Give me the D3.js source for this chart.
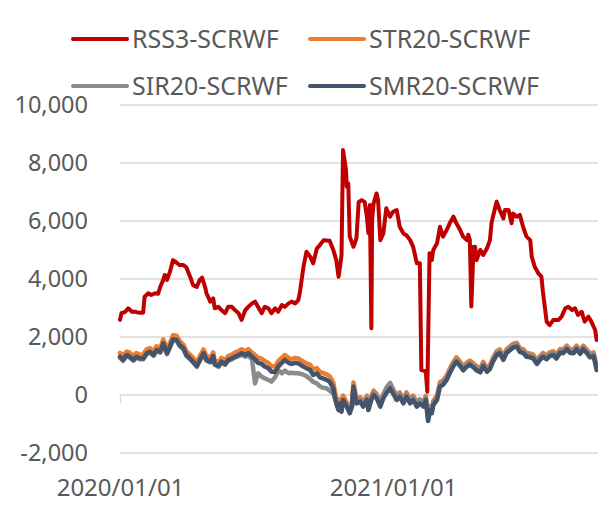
<!DOCTYPE html>
<meta charset="utf-8">
<script src="https://d3js.org/d3.v7.min.js"></script>
<style>
  body { margin: 0; background: #fff; }
  text { font-family: "Noto Sans", "Open Sans", sans-serif; fill: #595959; }
</style>
<body>
<div id="chart"></div>
<script>
// days counted from 2020/01/01
var rssDays = [0,2,7,11,16,20,25,31,33,38,42,47,51,54,58,60,63,67,71,76,
  80,85,89,94,98,103,107,110,114,116,121,125,127,132,136,141,145,150,154,159,
  163,168,172,177,181,185,190,194,199,203,208,212,217,221,226,230,235,239,241,246,
  250,255,259,264,268,273,281,286,290,293,295,297,299,303,304,306,308,313,317,320,
  324,328,331,333,335,337,338,340,344,346,349,353,357,362,366,371,375,380,384,389,
  393,398,402,404,408,410,412,415,418,420,425,429,433,438,442,447,451,456,460,465,
  467,469,471,474,476,478,483,487,492,496,498,500,505,509,514,516,521,525,527,532,
  536,541,545,550,552,556,561,565,567,572,576,581,588,592,597,601,606,610,614,619,
  623,628,632,637,639];
var rssVals = [2590,2820,2870,2990,2870,2870,2840,2840,3390,3510,3450,3510,3490,3730,3970,4140,3970,4250,4650,4560,
  4480,4480,4400,4080,3790,3730,3970,4050,3730,3510,3220,3330,2990,3040,2930,2820,3040,3040,2930,2820,
  2590,2930,3040,3160,3220,3040,2820,3040,2990,2820,2990,2870,3100,3040,3160,3220,3160,3270,3510,4420,
  4940,4770,4540,5060,5170,5340,5320,5000,4650,4080,4420,4830,8450,7760,7180,7300,5460,5110,5400,6660,
  6720,6660,6150,5580,6550,2300,6030,6610,6950,6720,5340,5570,6440,6150,6320,6380,5800,5570,5510,5340,
  5110,4540,4540,860,830,800,115,4890,4650,5000,5230,5800,5460,5690,5920,6150,5920,5690,5460,5340,
  5520,5340,3050,5110,5110,4650,5000,4830,5060,5340,5920,6150,6670,6380,6090,6380,6380,5920,6260,6150,
  6210,5750,5460,5340,4770,4420,4190,4080,3560,2530,2410,2590,2590,2700,2990,3040,2930,2990,2760,2870,
  2530,2700,2530,2240,1900];

var lowDays = [0,4,9,13,18,22,27,31,36,40,
  45,49,54,58,63,67,71,76,80,85,
  89,94,98,103,107,112,116,121,125,127,
  132,136,141,145,150,154,159,163,168,172,
  177,181,185,190,194,199,203,208,212,217,
  221,226,230,235,239,246,250,255,259,264,
  268,272,277,281,286,288,290,293,295,297,
  299,304,308,311,313,315,317,322,326,331,
  333,337,340,344,349,353,357,362,366,371,
  375,380,384,389,393,398,402,407,410,413,
  416,418,420,425,429,433,438,442,447,451,
  456,460,465,469,474,478,483,487,492,496,
  500,505,509,514,518,523,527,532,536,541,
  545,550,554,559,563,567,572,576,581,585,
  590,594,599,603,608,612,617,621,626,630,
  635,639];
var strVals = [1450,1360,1500,1460,1350,1450,1390,1400,1580,1620,
  1520,1680,1630,1920,1580,1800,2060,2040,1860,1740,
  1510,1390,1280,1130,1340,1570,1350,1280,1470,1200,
  1130,1280,1200,1340,1390,1460,1510,1580,1510,1580,
  1460,1380,1290,1250,1170,1100,990,990,1160,1290,
  1380,1280,1240,1280,1260,1150,1090,1040,880,930,
  800,760,710,650,430,130,-120,-360,-140,-430,
  -20,-250,-480,-250,430,150,-130,-80,-250,-20,
  -370,-20,150,40,-250,40,210,380,200,-20,
  90,-140,90,-140,-20,-250,-140,-260,-30,-760,
  -380,-480,-200,-20,450,500,680,900,1150,1300,
  1150,1000,1120,1190,1090,990,920,1140,940,1040,
  1280,1510,1570,1340,1570,1680,1770,1800,1620,1570,
  1450,1430,1390,1200,1340,1450,1360,1470,1510,1390,
  1590,1570,1700,1590,1570,1700,1550,1700,1570,1430,
  1470,990];
var sirVals = [1290,1180,1350,1290,1180,1290,1230,1230,1410,1460,
  1350,1520,1460,1750,1410,1640,1890,1870,1690,1580,
  1350,1230,1120,970,1180,1410,1180,1120,1310,1040,
  970,1120,1040,1180,1230,1290,1340,1380,1320,1360,
  1230,400,750,630,570,520,460,610,860,750,
  840,750,770,750,750,700,650,550,450,400,
  300,250,230,150,50,-100,-250,-450,-300,-500,
  -200,-350,-550,-380,250,50,-200,-150,-300,-100,
  -400,-80,80,0,-300,0,250,420,200,-50,
  40,-200,40,-180,-70,-300,-180,-300,-80,-800,
  -430,-540,-250,-80,380,430,600,820,1070,1220,
  1070,920,1050,1120,1020,920,850,1070,870,970,
  1220,1450,1510,1280,1510,1620,1710,1740,1560,1510,
  1390,1370,1330,1140,1280,1390,1300,1410,1450,1330,
  1530,1510,1650,1530,1510,1650,1490,1650,1510,1370,
  1410,930];
var smrVals = [1320,1210,1380,1320,1210,1320,1260,1260,1440,1490,
  1380,1550,1490,1780,1440,1670,1920,1900,1720,1610,
  1380,1260,1150,1000,1210,1440,1210,1150,1340,1070,
  1000,1150,1070,1210,1260,1320,1380,1440,1380,1440,
  1320,1230,1110,1070,980,920,800,800,980,1110,
  1210,1110,1070,1110,1090,980,920,860,690,750,
  610,570,520,460,230,-60,-290,-520,-290,-580,
  -170,-400,-630,-400,290,0,-290,-230,-400,-170,
  -520,-170,0,-110,-400,-110,60,230,60,-170,
  -60,-290,-60,-290,-170,-400,-290,-400,-170,-900,
  -520,-630,-350,-170,290,350,520,750,1000,1150,
  1000,850,980,1050,950,850,780,1000,800,900,
  1150,1380,1440,1210,1440,1550,1640,1670,1490,1440,
  1320,1300,1260,1070,1210,1320,1230,1340,1380,1260,
  1460,1440,1580,1460,1440,1580,1420,1580,1440,1300,
  1340,860];

var seriesNames = ["RSS3-SCRWF", "STR20-SCRWF", "SIR20-SCRWF", "SMR20-SCRWF"];
var seriesColors = ["#c00000", "#ed7d31", "#8c8c8c", "#44546a"];
var yTicks = [-2000, 0, 2000, 4000, 6000, 8000, 10000];

var width = 598, height = 505;
var start = new Date(2020, 0, 1);
function dayToDate(d) { return d3.timeDay.offset(start, d); }

var svg = d3.select("#chart").append("svg")
    .attr("width", width)
    .attr("height", height);

var x = d3.scaleTime()
    .domain([start, dayToDate(639)])
    .range([120, 120 + 639 * 273 / 366]);

var y = d3.scaleLinear()
    .domain([-2000, 10000])
    .range([453, 105]);

// gridlines
svg.append("g")
  .selectAll("line")
  .data(yTicks)
  .enter().append("line")
    .attr("x1", 120)
    .attr("x2", 598)
    .attr("y1", function(d) { return y(d); })
    .attr("y2", function(d) { return y(d); })
    .style("stroke", "#d9d9d9")
    .style("stroke-width", 1.5);

// y labels (plain hyphen for the minus sign, as in the original)
svg.append("g")
  .selectAll("text")
  .data(yTicks)
  .enter().append("text")
    .attr("x", 88)
    .attr("y", function(d) { return y(d); })
    .attr("dy", "0.35em")
    .attr("text-anchor", "end")
    .style("font-size", "23.5px")
    .text(function(d) { return d3.format(",")(d).replace("\u2212", "-"); });

// x axis on the zero line
var xAxis = svg.append("g")
    .attr("transform", "translate(0," + y(0) + ")")
    .call(d3.axisBottom(x)
      .tickValues([start, new Date(2021, 0, 1)])
      .tickSize(8)
      .tickFormat(d3.timeFormat("%Y/%m/%d")));
xAxis.select(".domain").remove();
xAxis.selectAll("line").style("stroke", "#d9d9d9").style("stroke-width", 1.5);
xAxis.selectAll("text")
    .attr("y", 101)
    .attr("dy", "0")
    .style("font-size", "24px")
    .style("font-family", "'Noto Sans', sans-serif")
    .attr("fill", "#595959");

// lines
var line = d3.line()
    .x(function(d) { return x(dayToDate(d[0])); })
    .y(function(d) { return y(d[1]); });

var seriesData = [
  d3.zip(rssDays, rssVals),
  d3.zip(lowDays, strVals),
  d3.zip(lowDays, sirVals),
  d3.zip(lowDays, smrVals)
];

svg.append("g")
  .selectAll("path")
  .data(seriesData)
  .enter().append("path")
    .attr("d", line)
    .style("fill", "none")
    .style("stroke", function(d, i) { return seriesColors[i]; })
    .style("stroke-width", function(d, i) { return i == 0 ? 4 : 4.5; })
    .style("stroke-linejoin", "round")
    .style("stroke-linecap", "round");

// legend
var legendPos = [[73, 39], [310, 39], [73, 86], [310, 86]];
var legend = svg.append("g")
  .selectAll("g")
  .data(seriesNames)
  .enter().append("g")
    .attr("transform", function(d, i) { return "translate(" + legendPos[i][0] + "," + legendPos[i][1] + ")"; });
legend.append("line")
    .attr("x1", 0)
    .attr("x2", 54)
    .style("stroke", function(d, i) { return seriesColors[i]; })
    .style("stroke-width", 4)
    .style("stroke-linecap", "round");
legend.append("text")
    .attr("x", 59)
    .attr("dy", "0.35em")
    .style("font-size", "25px")
    .text(function(d) { return d; });
</script>
</body>
